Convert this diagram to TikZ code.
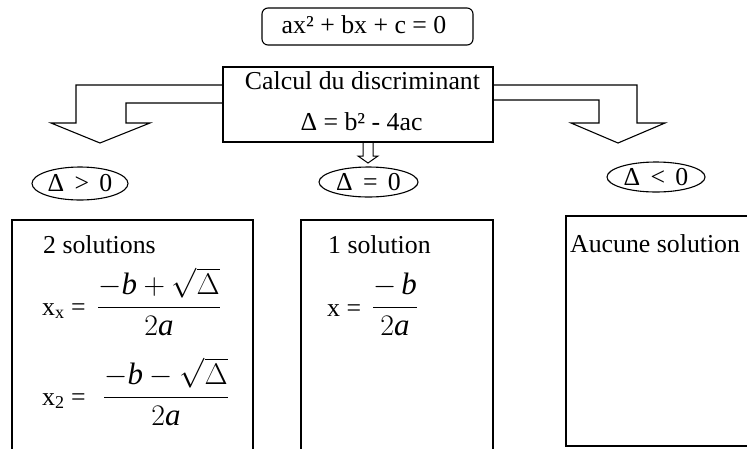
\documentclass[tikz,border=0pt]{standalone}
\usepackage{graphicx}
\usepackage{fontspec}
\setmainfont{Liberation Serif}
\usetikzlibrary{shapes.geometric}
\newcommand{\bigfrac}[1]{\scalebox{1.2}{$\displaystyle #1$}}
\begin{document}
\begin{tikzpicture}[x=1pt,y=-1pt,
  font=\fontsize{25.8}{31}\selectfont,
  fatarrow/.style={draw, fill=white, line width=1.1pt, line join=miter},
  boxst/.style={draw, fill=white, line width=1.4pt, inner sep=0pt},
  oval/.style={draw, ellipse, line width=1.1pt, inner sep=0pt},
  txt/.style={inner sep=0pt}]
\useasboundingbox (0,0) rectangle (747,448);
% fat arrows
\draw[fatarrow] (224,85) -- (76,85) -- (76,123) -- (51,123) -- (100,143) -- (150,123) -- (126,123) -- (126,103) -- (224,103);
\draw[fatarrow] (492,85) -- (637,85) -- (637,123) -- (665,123) -- (618,143) -- (571,123) -- (599,123) -- (599,100) -- (492,100);
\draw[fatarrow, line width=1pt] (363,141) -- (363,156) -- (358,156) -- (368,163) -- (378,156) -- (373,156) -- (373,141);
% top box
\node[boxst, rounded corners=6pt, line width=1.1pt, minimum width=211pt, minimum height=37pt] (eq) at (367.5,26.5) {};
\node[txt, anchor=base] (eqt) at (364,33.5) {ax² + bx + c = 0};
% central box
\node[boxst, minimum width=270pt, minimum height=75pt] (calc) at (358,104.5) {};
\node[txt, anchor=base] (c1) at (362.5,89) {Calcul du discriminant};
\node[txt, anchor=base] (c2) at (361.5,130) {Δ = b² - 4ac};
% ellipses
\node[oval, minimum width=96pt, minimum height=33pt] (gt) at (80,183.5) {Δ\hspace{0.4em}>\hspace{0.4em}0};
\node[oval, minimum width=99pt, minimum height=30pt] (eqz) at (368.5,182) {Δ\hspace{0.4em}=\hspace{0.4em}0};
\node[oval, minimum width=98pt, minimum height=30pt] (lt) at (656,177) {Δ\hspace{0.4em}<\hspace{0.4em}0};
% bottom boxes
\node[boxst, minimum width=241pt, minimum height=250pt] (b1) at (132.5,345) {};
\node[boxst, minimum width=192pt, minimum height=250pt] (b2) at (397,345) {};
\node[boxst, minimum width=196pt, minimum height=230pt] (b3) at (664,331) {};
% left box content
\node[txt, anchor=base west] (s2) at (43,253) {2 solutions};
\node[txt, anchor=base west] (x1) at (42,315) {x\textsubscript{x} =};
\node[txt, anchor=base] (f1) at (159,315) {\bigfrac{\frac{-\mbox{\itshape b}+\sqrt{\Delta}}{2\mbox{\itshape a}}}};
\node[txt, anchor=base west] (x2) at (42,405) {x\textsubscript{2} =};
\node[txt, anchor=base] (f2) at (166,405) {\bigfrac{\frac{-\mbox{\itshape b}-\sqrt{\Delta}}{2\mbox{\itshape a}}}};
% middle box content
\node[txt, anchor=base west] (s1) at (328,253) {1 solution};
\node[txt, anchor=base west] (x0) at (327,316) {x =};
\node[txt, anchor=base] (f0) at (395,315) {\bigfrac{\frac{-\,\mbox{\itshape b}}{2\mbox{\itshape a}}}};
% right box content
\node[txt, anchor=base west] (s0) at (570,252) {Aucune solution};
\end{tikzpicture}
\end{document}
